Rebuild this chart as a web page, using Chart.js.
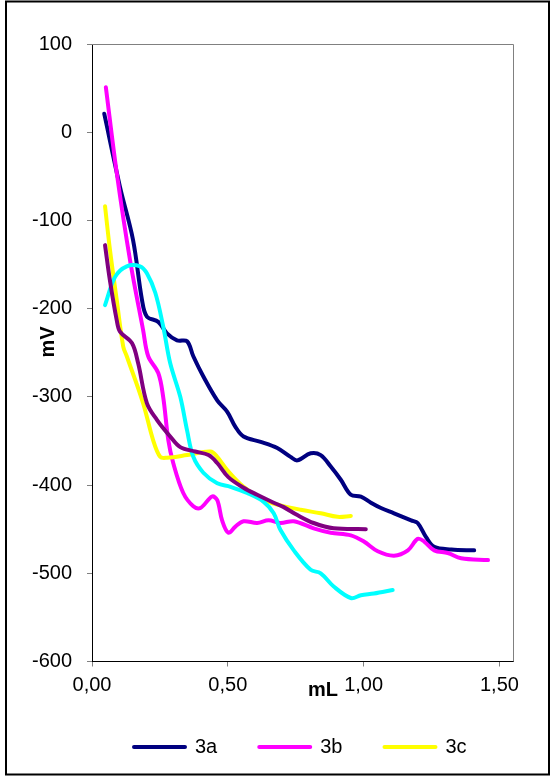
<!DOCTYPE html>
<html>
<head>
<meta charset="utf-8">
<script src="https://cdn.jsdelivr.net/npm/chart.js@4.4.0/dist/chart.umd.min.js"></script>
<style>
  html, body { margin: 0; padding: 0; background: #fff; }
  #wrap { width: 552px; height: 778px; }
</style>
</head>
<body>
<div id="wrap"><canvas id="grafico" width="552" height="778"></canvas></div>
<script>
// valores (mL, mV)
const nomes = ['3a', '3b', '3c', '3d', '3e']
const cores = ['#000080', '#FF00FF', '#FFFF00', '#00FFFF', '#800080']

const x3a = [0.045, 0.103, 0.151, 0.184, 0.202, 0.244, 0.276, 0.313, 0.350, 0.373, 0.410, 0.461, 0.498, 0.528, 0.558, 0.621, 0.682, 0.731, 0.756, 0.805, 0.842, 0.879, 0.916, 0.953, 0.990, 1.027, 1.064, 1.112, 1.175, 1.199, 1.230, 1.260, 1.323, 1.407]
const y3a = [21, -62, -122, -190, -209, -215, -228, -236, -237, -254, -277, -304, -317, -334, -345, -351, -358, -368, -372, -364, -366, -379, -394, -411, -413, -420, -426, -432, -440, -443, -459, -470, -473, -474]

const x3b = [0.051, 0.091, 0.140, 0.188, 0.207, 0.244, 0.262, 0.281, 0.299, 0.336, 0.373, 0.399, 0.442, 0.461, 0.479, 0.502, 0.528, 0.558, 0.608, 0.650, 0.694, 0.743, 0.816, 0.879, 0.953, 1.001, 1.052, 1.112, 1.163, 1.199, 1.223, 1.260, 1.310, 1.359, 1.458]
const y3b = [51, -46, -145, -224, -254, -273, -300, -349, -375, -409, -424, -426, -413, -417, -440, -454, -447, -441, -443, -440, -443, -441, -449, -454, -457, -464, -475, -480, -474, -461, -464, -474, -477, -483, -485]

const x3c = [0.048, 0.066, 0.091, 0.115, 0.128, 0.188, 0.225, 0.251, 0.276, 0.350, 0.436, 0.461, 0.498, 0.558, 0.632, 0.694, 0.768, 0.842, 0.904, 0.953]
const y3c = [-84, -133, -190, -243, -254, -307, -349, -368, -369, -366, -362, -368, -383, -402, -417, -423, -428, -432, -436, -435]

const x3d = [0.048, 0.085, 0.128, 0.177, 0.202, 0.233, 0.262, 0.288, 0.325, 0.350, 0.373, 0.410, 0.461, 0.510, 0.571, 0.632, 0.669, 0.694, 0.743, 0.805, 0.842, 0.890, 0.953, 0.990, 1.038, 1.107]
const y3d = [-196, -164, -152, -152, -160, -182, -220, -262, -300, -338, -368, -386, -398, -402, -409, -419, -432, -451, -474, -496, -500, -515, -528, -525, -523, -519]

const x3e = [0.048, 0.066, 0.091, 0.103, 0.147, 0.170, 0.202, 0.239, 0.288, 0.325, 0.380, 0.429, 0.461, 0.502, 0.558, 0.608, 0.669, 0.706, 0.756, 0.816, 0.890, 1.008]
const y3e = [-128, -168, -213, -226, -239, -262, -307, -326, -345, -357, -362, -366, -375, -391, -403, -411, -420, -425, -434, -443, -449, -450]

const xTicks = [0, 0.5, 1, 1.5]
const yMin = -600
const yMax = 100

const seriesX = [x3a, x3b, x3c, x3d, x3e]
const seriesY = [y3a, y3b, y3c, y3d, y3e]

const fonte = "'Liberation Sans', Arial, sans-serif"

const datasets = nomes.map((nome, i) => ({
  label: nome,
  data: seriesX[i].map((x, j) => ({ x: x, y: seriesY[i][j] })),
  borderColor: cores[i],
  backgroundColor: cores[i],
  borderWidth: 4,
  borderCapStyle: 'round',
  borderJoinStyle: 'round',
  pointRadius: 0,
  tension: 0.35,
  fill: false,
  order: nomes.length - i
}))

// moldura, borda da area e titulos dos eixos
const extras = {
  id: 'extras',
  beforeDraw(chart) {
    const ctx = chart.ctx
    ctx.save()
    ctx.fillStyle = '#fff'
    ctx.fillRect(0, 0, chart.width, chart.height)
    ctx.restore()
  },
  afterDraw(chart) {
    const ctx = chart.ctx
    const a = chart.chartArea
    ctx.save()
    ctx.strokeStyle = '#808080'
    ctx.lineWidth = 1
    ctx.beginPath()
    ctx.moveTo(a.left, a.top + 0.5)
    ctx.lineTo(a.right + 0.5, a.top + 0.5)
    ctx.lineTo(a.right + 0.5, a.bottom)
    ctx.stroke()

    ctx.strokeStyle = '#000'
    ctx.lineWidth = 2
    ctx.strokeRect(6, 1.5, 543, 773)

    ctx.fillStyle = '#000'
    ctx.font = 'bold 20px ' + fonte
    ctx.textAlign = 'center'
    ctx.textBaseline = 'middle'
    ctx.fillText('mL', 323, 690)
    ctx.translate(48, 342)
    ctx.rotate(-Math.PI / 2)
    ctx.fillText('mV', 0, 0)
    ctx.restore()
  }
}

new Chart(document.getElementById('grafico').getContext('2d'), {
  type: 'line',
  data: { datasets: datasets },
  plugins: [extras],
  options: {
    responsive: false,
    animation: false,
    layout: { padding: { left: 10, right: 0, top: 44, bottom: 11 } },
    plugins: {
      tooltip: { enabled: false },
      legend: {
        position: 'bottom',
        align: 'start',
        fullSize: false,
        labels: {
          boxWidth: 51,
          boxHeight: 0,
          padding: 42,
          color: '#000',
          font: { family: fonte, size: 20 },
          filter: item => item.datasetIndex < 3,
          sort: (a, b) => a.datasetIndex - b.datasetIndex
        }
      }
    },
    scales: {
      x: {
        type: 'linear',
        min: 0,
        max: 1.55,
        afterBuildTicks: s => { s.ticks = xTicks.map(v => ({ value: v })) },
        afterFit: s => { s.height = 33.5 },
        grid: { drawOnChartArea: false, tickLength: 5, tickColor: '#808080' },
        border: { color: '#000', width: 1 },
        ticks: {
          padding: 7,
          color: '#000',
          font: { family: fonte, size: 20 },
          maxRotation: 0,
          callback: v => v.toFixed(2).replace('.', ',')
        }
      },
      y: {
        min: yMin,
        max: yMax,
        afterFit: s => { s.width = 82 },
        grid: { drawOnChartArea: false, tickLength: 5, tickColor: '#808080' },
        border: { color: '#000', width: 1 },
        ticks: {
          stepSize: 100,
          padding: 15,
          color: '#000',
          font: { family: fonte, size: 20 },
          callback: v => String(v)
        }
      },
      y2: {
        position: 'right',
        display: true,
        afterFit: s => { s.width = 39 },
        grid: { display: false },
        border: { display: false },
        ticks: { display: false }
      }
    }
  }
})
</script>
</body>
</html>
